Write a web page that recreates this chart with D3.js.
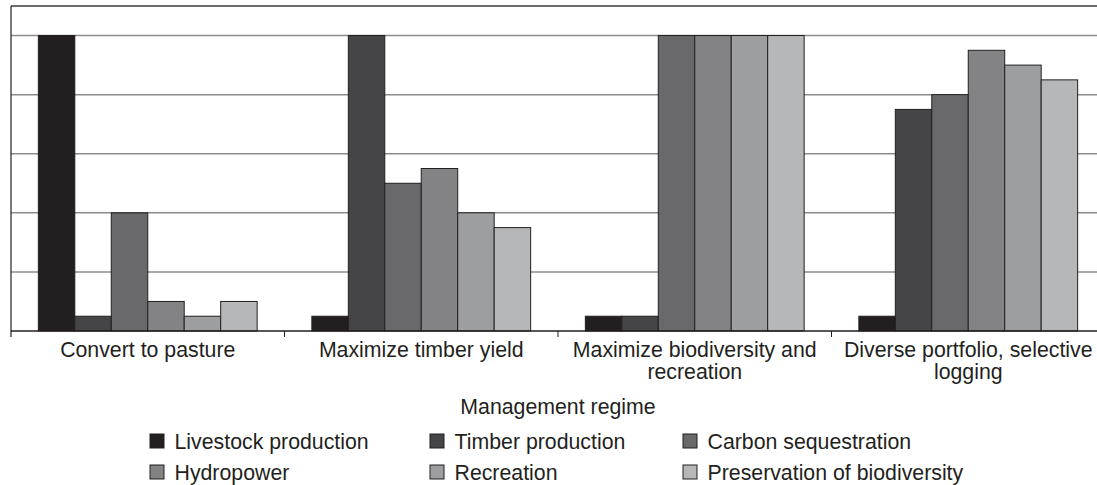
<!DOCTYPE html>
<html>
<head>
<meta charset="utf-8">
<script src="https://cdn.jsdelivr.net/npm/d3@7"></script>
<style>
  html, body { margin: 0; padding: 0; background: #fff; }
  svg { display: block; font-family: "Liberation Sans", Arial, Helvetica, sans-serif; }
</style>
</head>
<body>
<svg id="chart" width="1097" height="485"></svg>
<script>
const categories = [
  ["Convert to pasture"],
  ["Maximize timber yield"],
  ["Maximize biodiversity and", "recreation"],
  ["Diverse portfolio, selective", "logging"]
];
const seriesNames = ["Livestock production", "Timber production", "Carbon sequestration",
                     "Hydropower", "Recreation", "Preservation of biodiversity"];
const seriesColors = ["#231f20", "#454547", "#69696b", "#838385", "#9d9ea0", "#b6b7b9"];
// values per series, one entry per category
const livestock    = [5, 0.25, 0.25, 0.25];
const timber       = [0.25, 5, 0.25, 3.75];
const carbon       = [2, 2.5, 5, 4];
const hydropower   = [0.5, 2.75, 5, 4.75];
const recreation   = [0.25, 2, 5, 4.5];
const biodiversity = [0.5, 1.75, 5, 4.25];
const seriesValues = [livestock, timber, carbon, hydropower, recreation, biodiversity];
const yTicks = [1, 2, 3, 4, 5];
const xAxisTitle = "Management regime";

const svg = d3.select("#chart");
const mLeft = 11, mTop = 6, mBottom = 331;
const bandW = 273.5;
const fs = 21.3;
const catKeys = categories.map((c, i) => i);
const x = d3.scaleBand().domain(catKeys).range([mLeft, mLeft + bandW * 4]).padding(0);
const xs = d3.scaleBand().domain(d3.range(seriesNames.length)).range([0, x.bandwidth()])
  .paddingInner(0).paddingOuter(0.75);
const y = d3.scaleLinear().domain([0, 5.5]).range([mBottom, mTop]);

// gridlines
svg.append("g").selectAll("line").data(yTicks).join("line")
  .attr("x1", mLeft).attr("x2", 1097)
  .attr("y1", d => y(d)).attr("y2", d => y(d))
  .attr("stroke", "#8c8c8c").attr("stroke-width", 1.5);

// top border
svg.append("line").attr("x1", mLeft).attr("x2", 1097).attr("y1", y(5.5)).attr("y2", y(5.5))
  .attr("stroke", "#3a3a3a").attr("stroke-width", 1.5);

// bars
const data = [];
categories.forEach((c, ci) => seriesValues.forEach((vals, si) => data.push({ci, si, v: vals[ci]})));
svg.append("g").selectAll("rect").data(data).join("rect")
  .attr("x", d => x(d.ci) + xs(d.si))
  .attr("y", d => y(d.v))
  .attr("width", xs.bandwidth())
  .attr("height", d => y(0) - y(d.v))
  .attr("fill", d => seriesColors[d.si])
  .attr("stroke", "#231f20").attr("stroke-width", 1);

// left axis line
svg.append("line").attr("x1", mLeft).attr("x2", mLeft).attr("y1", mTop).attr("y2", mBottom + 6)
  .attr("stroke", "#231f20").attr("stroke-width", 1.2);

// x axis
svg.append("line").attr("x1", mLeft).attr("x2", 1097).attr("y1", mBottom).attr("y2", mBottom)
  .attr("stroke", "#231f20").attr("stroke-width", 1.5);
svg.append("g").selectAll("line").data(catKeys.slice(1)).join("line")
  .attr("x1", d => x(d)).attr("x2", d => x(d))
  .attr("y1", mBottom).attr("y2", mBottom + 6)
  .attr("stroke", "#231f20").attr("stroke-width", 1);

// category labels
const labels = svg.append("g").selectAll("text").data(catKeys).join("text")
  .attr("x", d => x(d) + x.bandwidth() / 2)
  .attr("y", 357)
  .attr("text-anchor", "middle")
  .attr("font-size", fs)
  .attr("fill", "#231f20");
labels.each(function(d) {
  const t = d3.select(this);
  categories[d].forEach((line, li) => {
    t.append("tspan").attr("x", x(d) + x.bandwidth() / 2).attr("dy", li === 0 ? 0 : 22).text(line);
  });
});

// axis title
svg.append("text").attr("x", 558).attr("y", 414).attr("text-anchor", "middle")
  .attr("font-size", fs).attr("fill", "#231f20").text(xAxisTitle);

// legend
const legCols = [150, 430, 683];
const legRows = [441, 472];
const leg = svg.append("g").selectAll("g").data(seriesNames).join("g")
  .attr("transform", (d, i) => `translate(${legCols[i % 3]},${legRows[Math.floor(i / 3)]})`);
leg.append("rect").attr("x", 0).attr("y", -7).attr("width", 14).attr("height", 14)
  .attr("fill", (d, i) => seriesColors[i]).attr("stroke", "#231f20").attr("stroke-width", 1);
leg.append("text").attr("x", 24.5).attr("y", 7.5).attr("font-size", fs).attr("fill", "#231f20")
  .text(d => d);
</script>
</body>
</html>
